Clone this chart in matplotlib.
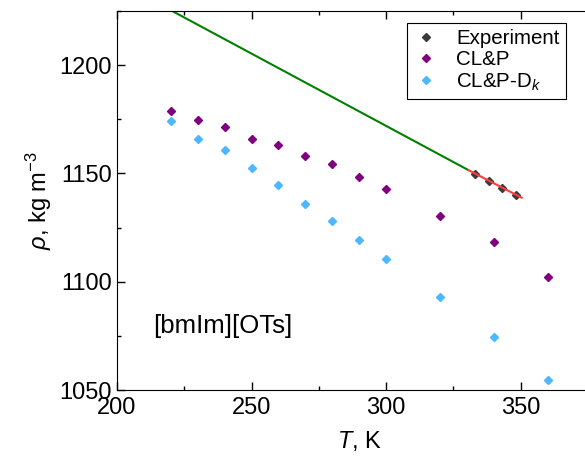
import numpy as np
import matplotlib
matplotlib.use('Agg')
import matplotlib.pyplot as plt
from matplotlib import rcParams
from matplotlib.ticker import MultipleLocator

rcParams['font.family'] = ['Liberation Sans', 'DejaVu Sans']
rcParams['mathtext.fontset'] = 'custom'
rcParams['mathtext.rm'] = 'Liberation Sans'
rcParams['mathtext.it'] = 'Liberation Sans:italic'

# data
T_exp = [333.15, 338.15, 343.15, 348.15]
rho_exp = [1149.8, 1146.4, 1143.2, 1140.0]

T_sim = [220, 230, 240, 250, 260, 270, 280, 290, 300, 320, 340, 360]
rho_clp = [1178.8, 1174.7, 1171.4, 1165.9, 1163.1, 1158.1, 1154.4, 1148.4,
           1142.9, 1130.4, 1118.5, 1102.0]
rho_clpdk = [1174.2, 1165.9, 1160.8, 1152.5, 1144.7, 1135.9, 1128.1, 1119.4,
             1110.6, 1093.1, 1074.7, 1054.8]

# linear fit of experiment: extrapolated (green) and fitted range (red)
T_extrap = [200, 330.5]
rho_extrap = [1238.7, 1151.6]
T_fit = [330.5, 350.4]
rho_fit = [1151.6, 1138.8]

fig = plt.figure(figsize=(5.85, 4.59), dpi=100)
ax = fig.add_axes([0.2, 0.1503, 0.828, 0.8257])

ax.plot(T_extrap, rho_extrap, color='#008000', lw=1.5, zorder=2)
ax.plot(T_fit, rho_fit, color='#ff3b3b', lw=1.5, zorder=4)
ax.plot(T_exp, rho_exp, 'D', color='#3a3a3a', ms=4.2, ls='none',
        label='Experiment', zorder=3)
ax.plot(T_sim, rho_clp, 'D', color='#800080', ms=4.2, ls='none',
        label='CL&P', zorder=3)
ax.plot(T_sim, rho_clpdk, 'D', color='#4db8ff', ms=4.2, ls='none',
        label='CL&P-D$_{\\mathit{k}}$', zorder=3)

ax.set_xlim(200, 380)
ax.set_ylim(1050, 1225)
ax.xaxis.set_major_locator(MultipleLocator(50))
ax.xaxis.set_minor_locator(MultipleLocator(25))
ax.yaxis.set_major_locator(MultipleLocator(50))
ax.yaxis.set_minor_locator(MultipleLocator(25))
ax.tick_params(which='both', direction='in', top=True, right=True,
               labelsize=17, width=1)
ax.tick_params(which='major', length=6)
ax.tick_params(which='minor', length=3)
ax.tick_params(axis='x', pad=5)

ax.set_xlabel('$\\mathit{T}$, K', fontsize=17, labelpad=7)
ax.set_ylabel('$\\mathit{\\rho}$, kg m$^{-3}$', fontsize=17, labelpad=4)

ax.text(0.075, 0.169, '[bmIm][OTs]', transform=ax.transAxes,
        fontsize=18.5, va='center')

leg = ax.legend(loc='upper right', bbox_to_anchor=(0.9675, 0.95),
                bbox_transform=fig.transFigure, borderaxespad=0,
                fontsize=14.8, fancybox=False, edgecolor='black',
                handlelength=1.2, handletextpad=0.9, borderpad=0.3,
                labelspacing=0.1, framealpha=1)
leg.get_frame().set_linewidth(0.8)

plt.savefig('out.png', dpi=100)
